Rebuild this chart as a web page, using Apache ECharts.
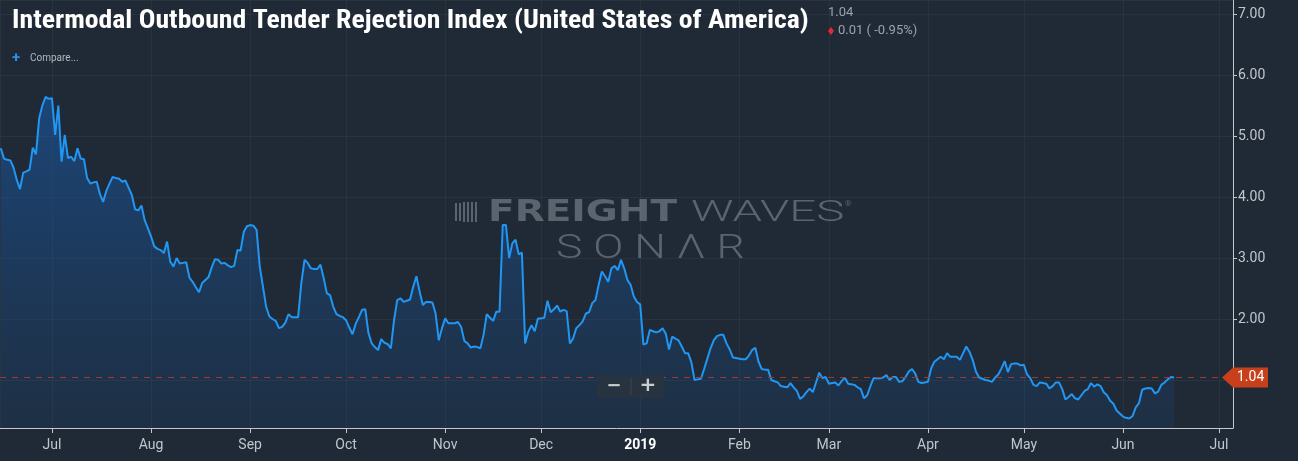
<!DOCTYPE html>
<html><head><meta charset="utf-8">
<script src="https://cdn.jsdelivr.net/npm/echarts@6/dist/echarts.min.js"></script>
<style>html,body{margin:0;padding:0;background:#1f2a36;}#c{width:1298px;height:461px;}</style>
</head><body><div id="c"></div>
<script>
// ---- data ----
const titleText = 'Intermodal Outbound Tender Rejection Index (United States of America)';
const startDate = [2018, 5, 15]; // first daily observation: 2018-06-15
const values = [
  4.80,4.63,4.61,4.60,4.48,4.28,4.13,4.40,4.42,4.45,
  4.81,4.70,5.29,5.50,5.64,5.61,5.62,5.02,5.50,4.58,
  5.02,4.64,4.66,4.59,4.80,4.63,4.62,4.31,4.22,4.24,
  4.25,4.05,3.92,4.10,4.22,4.33,4.31,4.30,4.25,4.27,
  4.15,4.03,3.80,3.78,3.86,3.62,3.49,3.35,3.19,3.15,
  3.13,3.08,3.27,2.94,2.86,3.00,2.91,2.92,2.93,2.68,
  2.61,2.52,2.44,2.59,2.64,2.69,2.85,2.98,2.97,2.91,
  2.92,2.88,2.85,2.87,3.13,3.12,3.43,3.52,3.54,3.53,
  3.46,2.86,2.53,2.20,2.04,2.00,1.97,1.85,1.87,1.94,
  2.08,2.03,2.03,2.03,2.59,2.97,2.92,2.83,2.82,2.82,
  2.89,2.67,2.42,2.39,2.20,2.08,2.05,2.03,1.98,1.86,
  1.75,1.92,2.03,2.15,2.16,1.77,1.60,1.54,1.49,1.67,
  1.61,1.59,1.52,1.98,2.31,2.34,2.28,2.30,2.32,2.53,
  2.70,2.45,2.23,2.28,2.28,2.27,2.09,1.65,1.85,2.01,
  1.93,1.93,1.93,1.95,1.87,1.64,1.60,1.53,1.55,1.54,
  1.52,1.74,2.08,2.02,1.97,2.12,2.12,3.54,3.54,3.00,
  3.24,3.30,3.06,3.09,1.60,1.79,1.90,1.80,2.01,2.01,
  2.02,2.30,2.11,2.16,2.22,2.12,2.15,2.13,1.60,1.68,
  1.85,1.90,1.96,2.09,2.11,2.26,2.31,2.56,2.78,2.70,
  2.61,2.83,2.87,2.80,2.97,2.83,2.64,2.56,2.37,2.28,
  2.24,1.58,1.60,1.82,1.80,1.78,1.80,1.85,1.76,1.50,
  1.71,1.68,1.65,1.55,1.44,1.44,1.29,1.00,1.01,1.02,
  1.18,1.35,1.52,1.65,1.72,1.74,1.74,1.60,1.50,1.37,
  1.36,1.35,1.34,1.34,1.40,1.49,1.53,1.30,1.18,1.17,
  1.17,1.00,0.98,0.96,0.90,0.89,0.88,0.95,0.88,0.82,
  0.69,0.73,0.80,0.86,0.80,0.96,1.12,1.03,1.05,0.94,
  0.95,0.96,0.91,0.98,1.04,0.94,0.93,0.92,0.88,0.85,
  0.70,0.75,0.90,1.03,1.03,1.03,1.04,1.08,1.00,1.05,
  1.05,0.97,0.98,1.05,1.14,1.18,1.11,0.97,0.95,0.96,
  0.97,1.19,1.30,1.34,1.38,1.34,1.44,1.38,1.38,1.38,
  1.33,1.44,1.55,1.46,1.33,1.14,1.04,1.02,1.00,0.99,
  0.97,1.04,1.09,1.19,1.31,1.13,1.26,1.27,1.27,1.24,
  1.25,1.09,1.03,0.92,0.90,0.96,0.95,0.94,0.86,0.90,
  0.96,0.96,0.85,0.68,0.72,0.77,0.70,0.68,0.75,0.82,
  0.85,0.95,0.89,0.93,0.90,0.80,0.75,0.66,0.61,0.50,
  0.45,0.40,0.38,0.37,0.41,0.55,0.62,0.84,0.86,0.87,
  0.86,0.78,0.81,0.92,0.96,1.01,1.05,1.04
];
const monthLabels = ['Jan','Feb','Mar','Apr','May','Jun','Jul','Aug','Sep','Oct','Nov','Dec'];
const lastValue = values[values.length - 1];
const changeText = '0.01 ( -0.95%)';
const axisRange = { xMin: [2018, 5, 14, 18], xMax: [2019, 6, 5, 10], yMin: 0.213, yMax: 7.23 };

// ---- build ----
const dates = values.map((_, i) => new Date(startDate[0], startDate[1], startDate[2] + i).getTime());
const seriesData = dates.map((d, i) => [d, values[i]]);
const DAY = 86400000;

const chart = echarts.init(document.getElementById('c'), null, { renderer: 'canvas' });
const axisColor = '#c3c8ce';
const labelColor = '#c0c6cd';

chart.setOption({
  backgroundColor: '#1f2a36',
  animation: false,
  grid: { left: 0, right: 65, top: 0, bottom: 33, containLabel: false },
  xAxis: {
    type: 'time',
    min: new Date(...axisRange.xMin).getTime(),
    max: new Date(...axisRange.xMax).getTime(),
    splitNumber: 13,
    minInterval: 28 * DAY,
    maxInterval: 31 * DAY,
    axisLine: { show: true, lineStyle: { color: axisColor, width: 1 } },
    axisTick: { show: true, length: 5, lineStyle: { color: axisColor } },
    minorTick: { show: false },
    splitLine: { show: true, lineStyle: { color: 'rgba(255,255,255,0.045)' } },
    axisLabel: {
      color: labelColor, fontSize: 14, margin: 10, fontFamily: 'Roboto, sans-serif',
      hideOverlap: false,
      formatter: function (val) {
        const d = new Date(val);
        if (d.getDate() !== 1) return '';
        return d.getMonth() === 0 ? '{yr|' + d.getFullYear() + '}' : monthLabels[d.getMonth()];
      },
      rich: { yr: { color: '#ffffff', fontWeight: 'bold', fontSize: 14, fontFamily: 'Roboto, sans-serif' } }
    }
  },
  yAxis: {
    type: 'value', position: 'right',
    min: axisRange.yMin, max: axisRange.yMax, splitNumber: 7,
    axisLine: { show: true, lineStyle: { color: axisColor, width: 1 } },
    axisTick: { show: true, length: 4, lineStyle: { color: axisColor } },
    splitLine: { show: true, lineStyle: { color: 'rgba(255,255,255,0.045)' } },
    axisLabel: {
      color: labelColor, fontSize: 14, margin: 5, fontFamily: 'Roboto, sans-serif',
      showMinLabel: false, showMaxLabel: false,
      formatter: v => (Math.abs(v - Math.round(v)) < 1e-6 ? v.toFixed(2) : '')
    }
  },
  series: [{
    type: 'line',
    data: seriesData,
    showSymbol: false,
    smooth: false,
    lineStyle: { color: '#2196f3', width: 2 },
    areaStyle: {
      color: new echarts.graphic.LinearGradient(0, 0, 0, 1, [
        { offset: 0, color: 'rgba(24,98,185,0.72)' },
        { offset: 1, color: 'rgba(24,82,155,0.2)' }
      ])
    },
    markLine: {
      silent: true, symbol: 'none',
      emphasis: { disabled: true },
      lineStyle: { color: '#9a3d2c', opacity: 1, type: [6, 6], width: 1.2 },
      label: { show: false },
      data: [{ yAxis: lastValue }]
    },
    z: 3
  }]
});

const py = chart.convertToPixel({ yAxisIndex: 0 }, lastValue);
const wmColor = 'rgba(150,158,168,0.5)';
const logoBars = [0, 1, 2, 3, 4, 5];
chart.setOption({
  graphic: [
    // title
    { type: 'text', x: 12, y: 22, scaleX: 1.11, style: { text: titleText, fill: '#ffffff',
      font: "bold 25px 'Roboto Condensed', 'Liberation Sans Narrow', sans-serif", textVerticalAlign: 'middle' } },
    // watermark
    ...logoBars.map(i => ({ type: 'rect', z: 1, shape: { x: 455 + i * 4, y: i < 2 ? 203 : 202, width: 2, height: i < 2 ? 18 : 20 }, style: { fill: wmColor } })),
    { type: 'text', z: 1, x: 488, y: 213, scaleX: 1.3, style: { text: 'FREIGHT', fill: wmColor, font: "900 30px 'DejaVu Sans', sans-serif", textVerticalAlign: 'middle' } },
    { type: 'text', z: 1, x: 691, y: 213, scaleX: 1.58, style: { text: 'WAVES', fill: wmColor, font: "300 30px Roboto, sans-serif", textVerticalAlign: 'middle' } },
    { type: 'text', z: 1, x: 845, y: 204, style: { text: '®', fill: wmColor, font: "8px Roboto, sans-serif", textVerticalAlign: 'middle' } },
    { type: 'text', z: 1, x: 556, y: 250, scaleX: 1.35, style: { text: 'S O N Λ R', fill: wmColor, font: "300 33px Roboto, sans-serif", textVerticalAlign: 'middle' } },
    // header values
    { type: 'text', x: 828, y: 13, style: { text: lastValue.toFixed(2), fill: '#9aa3ad', font: "13px Roboto, sans-serif", textVerticalAlign: 'middle' } },
    { type: 'polygon', shape: { points: [[831, 27], [834, 31], [831, 35], [828, 31]] }, style: { fill: '#e0293a' } },
    { type: 'text', x: 838, y: 31, style: { text: changeText, fill: '#9aa3ad', font: "13px Roboto, sans-serif", textVerticalAlign: 'middle' } },
    // compare
    { type: 'text', x: 12, y: 58, style: { text: '+', fill: '#2f8fee', font: "bold 15px Roboto, sans-serif", textVerticalAlign: 'middle' } },
    { type: 'text', x: 30, y: 58, style: { text: 'Compare...', fill: '#b0b7bf', font: "10px Roboto, sans-serif", textVerticalAlign: 'middle' } },
    // zoom buttons
    { type: 'rect', z: 100, shape: { x: 597, y: 375, width: 67, height: 23, r: 2 }, style: { fill: '#283340' } },
    { type: 'line', z: 101, shape: { x1: 631, y1: 378, x2: 631, y2: 395 }, style: { stroke: '#3a4552', lineWidth: 1 } },
    { type: 'text', z: 101, x: 614, y: 386, style: { text: '−', fill: '#c9ced4', font: "bold 18px 'DejaVu Sans', sans-serif", textAlign: 'center', textVerticalAlign: 'middle' } },
    { type: 'text', z: 101, x: 648, y: 386, style: { text: '+', fill: '#c9ced4', font: "bold 20px 'DejaVu Sans', sans-serif", textAlign: 'center', textVerticalAlign: 'middle' } },
    // last value tag
    { type: 'polygon', z: 100, shape: { points: [[1222, py], [1233, py - 10], [1268, py - 10], [1268, py + 10], [1233, py + 10]] }, style: { fill: '#c8401b' } },
    { type: 'text', z: 101, x: 1237, y: py, style: { text: lastValue.toFixed(2), fill: '#ffffff', font: "14px Roboto, sans-serif", textVerticalAlign: 'middle' } }
  ]
});
</script>
</body></html>
